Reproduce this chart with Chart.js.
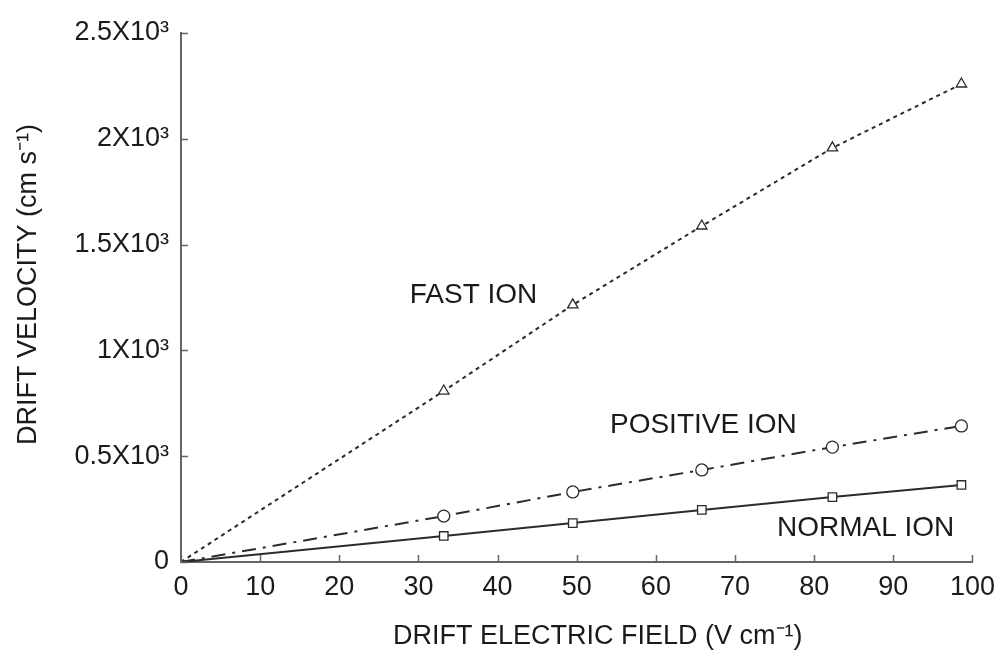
<!DOCTYPE html>
<html>
<head>
<meta charset="utf-8">
<script src="https://cdn.jsdelivr.net/npm/chart.js@4"></script>
<style>
  html, body { margin: 0; padding: 0; background: #fff; }
  #wrap { width: 1004px; height: 654px; }
</style>
</head>
<body>
<div id="wrap"><canvas id="chart" width="1004" height="654"></canvas></div>
<script>
// values
var fieldValues = [0, 33.2, 49.5, 65.8, 82.3, 98.6];
var fastIon = [0, 808, 1215, 1588, 1957, 2259];
var positiveIon = [0, 217, 331, 435, 543, 643];
var normalIon = [0, 123, 184, 246, 307, 364];
var yTickLabels = ['0', '0.5X10³', '1X10³', '1.5X10³', '2X10³', '2.5X10³'];
var markerSizes = [0, 6, 6, 6, 6, 6];

function toPoints(ys) {
    return fieldValues.map(function (x, i) { return { x: x, y: ys[i] }; });
}

var ink = '#2b2b2b';
var fontFamily = '"Liberation Sans", Arial, sans-serif';

// axis ticks in this figure point into the plot
var innerTicks = {
    id: 'innerTicks',
    afterDraw: function (chart) {
        var ctx = chart.ctx, xs = chart.scales.x, ys = chart.scales.y;
        ctx.save();
        ctx.strokeStyle = '#666';
        ctx.lineWidth = 1.5;
        ctx.beginPath();
        xs.ticks.forEach(function (t) {
            var px = Math.round(xs.getPixelForValue(t.value)) + 0.5;
            ctx.moveTo(px, ys.bottom);
            ctx.lineTo(px, ys.bottom - 7);
        });
        ys.ticks.forEach(function (t) {
            var py = Math.round(ys.getPixelForValue(t.value)) + 0.5;
            ctx.moveTo(xs.left, py);
            ctx.lineTo(xs.left + 7, py);
        });
        ctx.stroke();
        ctx.restore();
    }
};

// axis titles sit a little off-centre in the original
var axisTitles = {
    id: 'axisTitles',
    afterDraw: function (chart) {
        var ctx = chart.ctx, a = chart.chartArea;
        ctx.save();
        ctx.fillStyle = '#1a1a1a';
        ctx.font = '27px ' + fontFamily;
        ctx.textAlign = 'center';
        ctx.textBaseline = 'middle';
        ctx.fillText('DRIFT ELECTRIC FIELD (V cm⁻¹)', (a.left + a.right) / 2 + 21, chart.height - 17);
        ctx.translate(29, (a.top + a.bottom) / 2 - 13);
        ctx.rotate(-Math.PI / 2);
        ctx.fillText('DRIFT VELOCITY (cm s⁻¹)', 0, 0);
        ctx.restore();
    }
};

// series labels written inside the plot
var seriesLabels = {
    id: 'seriesLabels',
    afterDatasetsDraw: function (chart) {
        var ctx = chart.ctx, xs = chart.scales.x, ys = chart.scales.y;
        var items = [
            ['FAST ION', 28.9, 1262],
            ['POSITIVE ION', 54.2, 647],
            ['NORMAL ION', 75.3, 161]
        ];
        ctx.save();
        ctx.fillStyle = '#1a1a1a';
        ctx.font = '28px ' + fontFamily;
        ctx.textAlign = 'left';
        ctx.textBaseline = 'middle';
        items.forEach(function (it) {
            ctx.fillText(it[0], xs.getPixelForValue(it[1]), ys.getPixelForValue(it[2]));
        });
        ctx.restore();
    }
};

var ctx = document.getElementById('chart').getContext('2d');
new Chart(ctx, {
    type: 'line',
    data: {
        datasets: [
            {
                label: 'FAST ION',
                data: toPoints(fastIon),
                borderColor: ink,
                borderWidth: 2,
                borderDash: [4, 4],
                pointStyle: 'triangle',
                pointRadius: markerSizes,
                pointBorderWidth: 1.3,
                pointBorderColor: ink,
                pointBackgroundColor: '#fff'
            },
            {
                label: 'POSITIVE ION',
                data: toPoints(positiveIon),
                borderColor: ink,
                borderWidth: 2,
                borderDash: [14, 7, 3, 7],
                pointStyle: 'circle',
                pointRadius: markerSizes,
                pointBorderWidth: 1.3,
                pointBorderColor: ink,
                pointBackgroundColor: '#fff'
            },
            {
                label: 'NORMAL ION',
                data: toPoints(normalIon),
                borderColor: ink,
                borderWidth: 2,
                pointStyle: 'rect',
                pointRadius: markerSizes,
                pointBorderWidth: 1.3,
                pointBorderColor: ink,
                pointBackgroundColor: '#fff'
            }
        ]
    },
    options: {
        responsive: false,
        animation: false,
        layout: { padding: { top: 33, right: 31, left: 0, bottom: 0 } },
        plugins: {
            legend: { display: false },
            tooltip: { enabled: false }
        },
        elements: { line: { tension: 0 } },
        scales: {
            x: {
                type: 'linear',
                min: 0,
                max: 100,
                afterFit: function (s) { s.height = 92; },
                ticks: {
                    stepSize: 10,
                    padding: 9,
                    color: '#1a1a1a',
                    font: { family: fontFamily, size: 27 }
                },
                grid: { drawOnChartArea: false, drawTicks: false },
                border: { display: true, color: '#666', width: 2 }
            },
            y: {
                type: 'linear',
                min: 0,
                max: 2500,
                afterFit: function (s) { s.width = 181; },
                ticks: {
                    stepSize: 500,
                    padding: 12,
                    color: '#1a1a1a',
                    font: { family: fontFamily, size: 27 },
                    callback: function (v, i) { return yTickLabels[i]; }
                },
                grid: { drawOnChartArea: false, drawTicks: false },
                border: { display: true, color: '#666', width: 2 }
            }
        }
    },
    plugins: [innerTicks, axisTitles, seriesLabels]
});
</script>
</body>
</html>
